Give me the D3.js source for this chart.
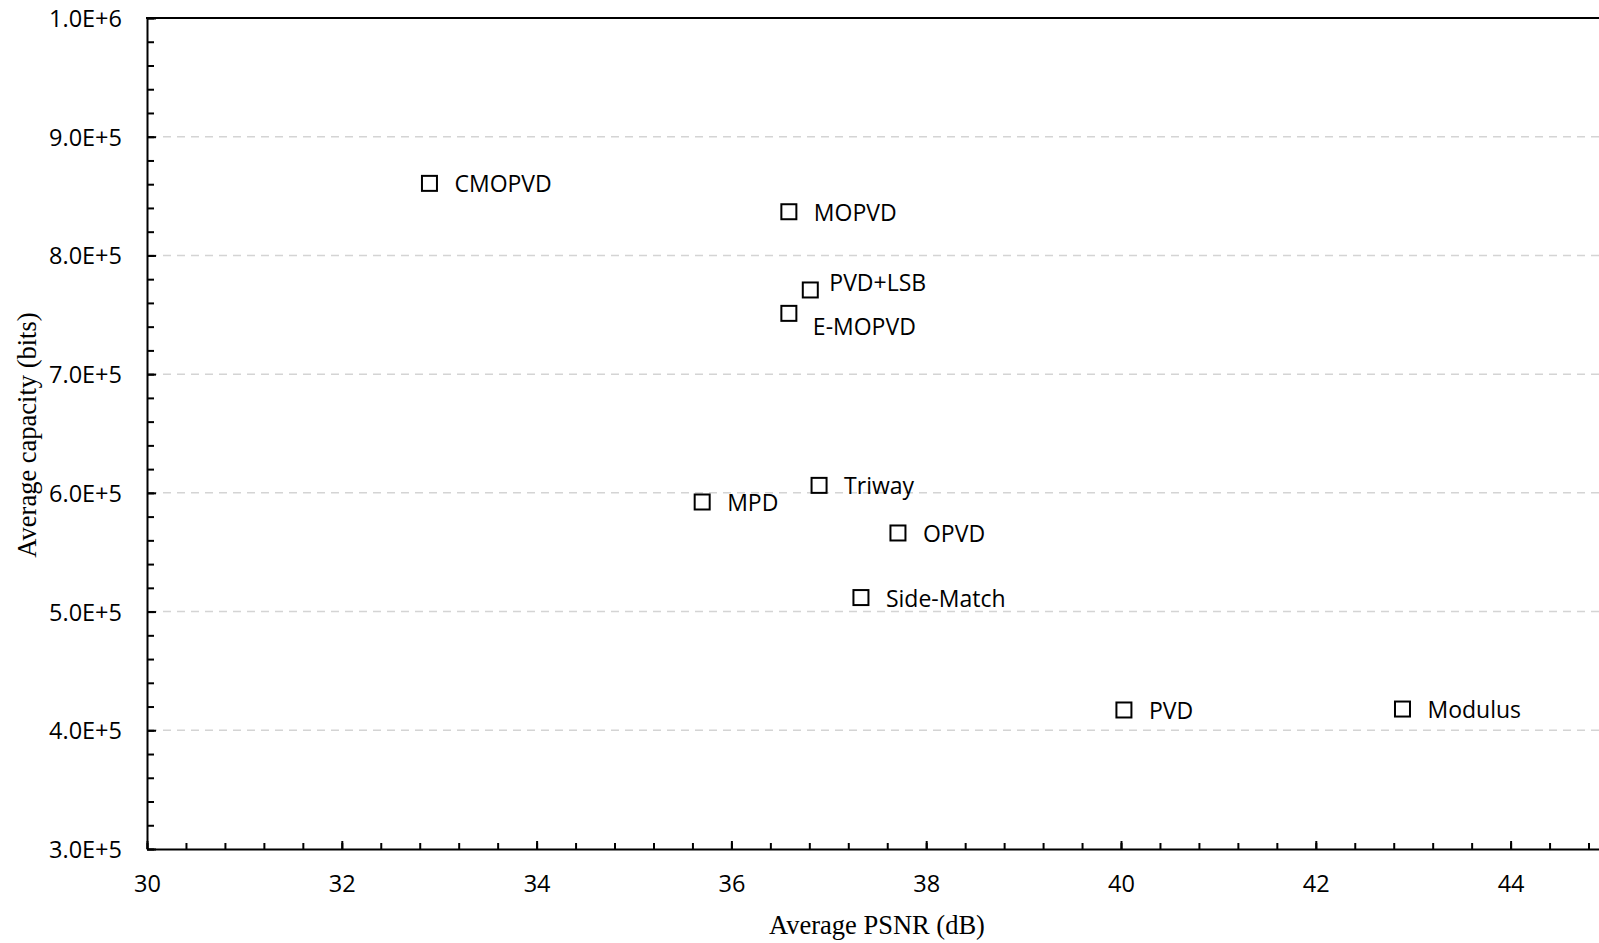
<!DOCTYPE html>
<html>
<head>
<meta charset="utf-8">
<script src="https://cdn.jsdelivr.net/npm/d3@7"></script>
<style>
  html, body { margin: 0; padding: 0; background: #fff; overflow: hidden; }
  .tick text { font-family: "Open Sans", sans-serif; font-size: 23.5px; fill: #000; }
  .axis-title { font-family: "Liberation Serif", "Times New Roman", serif; font-size: 26.5px; fill: #000; }
  .pt-label { font-family: "Open Sans", sans-serif; font-size: 23px; fill: #000; }
</style>
</head>
<body>
<div id="chart"></div>
<script>
// data
var methods = ['CMOPVD', 'MOPVD', 'PVD+LSB', 'E-MOPVD', 'Triway', 'MPD', 'OPVD', 'Side-Match', 'PVD', 'Modulus'];
var psnr = [32.90, 36.59, 36.81, 36.59, 36.90, 35.70, 37.71, 37.33, 40.03, 42.89];
var capacity = [860700, 836800, 770900, 751200, 606300, 592300, 566200, 511800, 417100, 417900];
var xTicks = [30, 32, 34, 36, 38, 40, 42, 44];
var yTicks = [300000, 400000, 500000, 600000, 700000, 800000, 900000, 1000000];
var gridValues = [400000, 500000, 600000, 700000, 800000, 900000];

// label nudges for the crowded ones (dx, dy from the marker centre)
var labelOffset = { 'PVD+LSB': [19, 1], 'E-MOPVD': [24, 22] };

var width = 1599, height = 943;
var margin = { top: 18, left: 147, bottom: 849 };

var svg = d3.select('#chart').append('svg')
  .attr('width', width)
  .attr('height', height);

var x = d3.scaleLinear().domain([30, 45]).range([margin.left, margin.left + 15 * 97.4]);
var y = d3.scaleLinear().domain([300000, 1000000]).range([margin.bottom, margin.top]);

// format like 9.0E+5
var sci = function(d) {
  var e = Math.floor(Math.log10(d));
  return (d / Math.pow(10, e)).toFixed(1) + 'E+' + e;
};

// grid lines
svg.append('g').selectAll('line')
  .data(gridValues)
  .enter().append('line')
    .attr('x1', x(30) + 2)
    .attr('x2', x(45))
    .attr('y1', function(d) { return y(d); })
    .attr('y2', function(d) { return y(d); })
    .attr('stroke', '#d4d4d4')
    .attr('stroke-width', 1.5)
    .attr('stroke-dasharray', '8,6');

// minor ticks
var xMinor = d3.range(30, 45.01, 0.4).map(function(v) { return +v.toFixed(1); });
var yMinor = d3.range(300000, 1000001, 20000);

svg.append('g')
  .attr('transform', 'translate(0,' + margin.bottom + ')')
  .call(d3.axisBottom(x).tickValues(xMinor).tickSize(-6).tickSizeOuter(0).tickFormat(''))
  .call(function(g) { g.select('.domain').remove(); g.selectAll('line').attr('stroke-width', 2); });

svg.append('g')
  .attr('transform', 'translate(' + margin.left + ',0)')
  .call(d3.axisLeft(y).tickValues(yMinor).tickSize(-7).tickSizeOuter(0).tickFormat(''))
  .call(function(g) { g.select('.domain').remove(); g.selectAll('line').attr('stroke-width', 2); });

// major axes
var xAxis = svg.append('g')
  .attr('transform', 'translate(0,' + margin.bottom + ')')
  .call(d3.axisBottom(x).tickValues(xTicks).tickSize(-8).tickSizeOuter(0).tickPadding(26));

var yAxis = svg.append('g')
  .attr('transform', 'translate(' + margin.left + ',0)')
  .call(d3.axisLeft(y).tickValues(yTicks).tickFormat(sci).tickSize(-9).tickSizeOuter(0).tickPadding(25));

[xAxis, yAxis].forEach(function(g) {
  g.select('.domain').attr('stroke', '#000').attr('stroke-width', 2);
  g.selectAll('line').attr('stroke', '#000').attr('stroke-width', 2);
});
yAxis.selectAll('.tick text').attr('dy', '0.36em');
xAxis.selectAll('.tick text').attr('dy', '0.71em');

// top border
svg.append('line')
  .attr('x1', x(30) - 1)
  .attr('x2', x(45))
  .attr('y1', y(1000000))
  .attr('y2', y(1000000))
  .attr('stroke', '#000')
  .attr('stroke-width', 2);

// markers
var pts = methods.map(function(m, i) { return { name: m, px: psnr[i], cap: capacity[i] }; });

var pt = svg.append('g').selectAll('g')
  .data(pts)
  .enter().append('g')
    .attr('transform', function(d) { return 'translate(' + x(d.px) + ',' + y(d.cap) + ')'; });

pt.append('rect')
  .attr('x', -7.5)
  .attr('y', -7.5)
  .attr('width', 15)
  .attr('height', 15)
  .attr('fill', 'none')
  .attr('stroke', '#000')
  .attr('stroke-width', 2);

pt.append('text')
  .attr('class', 'pt-label')
  .attr('x', function(d) { return labelOffset[d.name] ? labelOffset[d.name][0] : 25; })
  .attr('y', function(d) { return labelOffset[d.name] ? labelOffset[d.name][1] : 9; })
  .text(function(d) { return d.name; });

// axis titles
svg.append('text')
  .attr('class', 'axis-title')
  .attr('x', 877)
  .attr('y', 934)
  .attr('text-anchor', 'middle')
  .text('Average PSNR (dB)');

svg.append('text')
  .attr('class', 'axis-title')
  .attr('transform', 'translate(36,435) rotate(-90)')
  .attr('text-anchor', 'middle')
  .text('Average capacity (bits)');
</script>
</body>
</html>
